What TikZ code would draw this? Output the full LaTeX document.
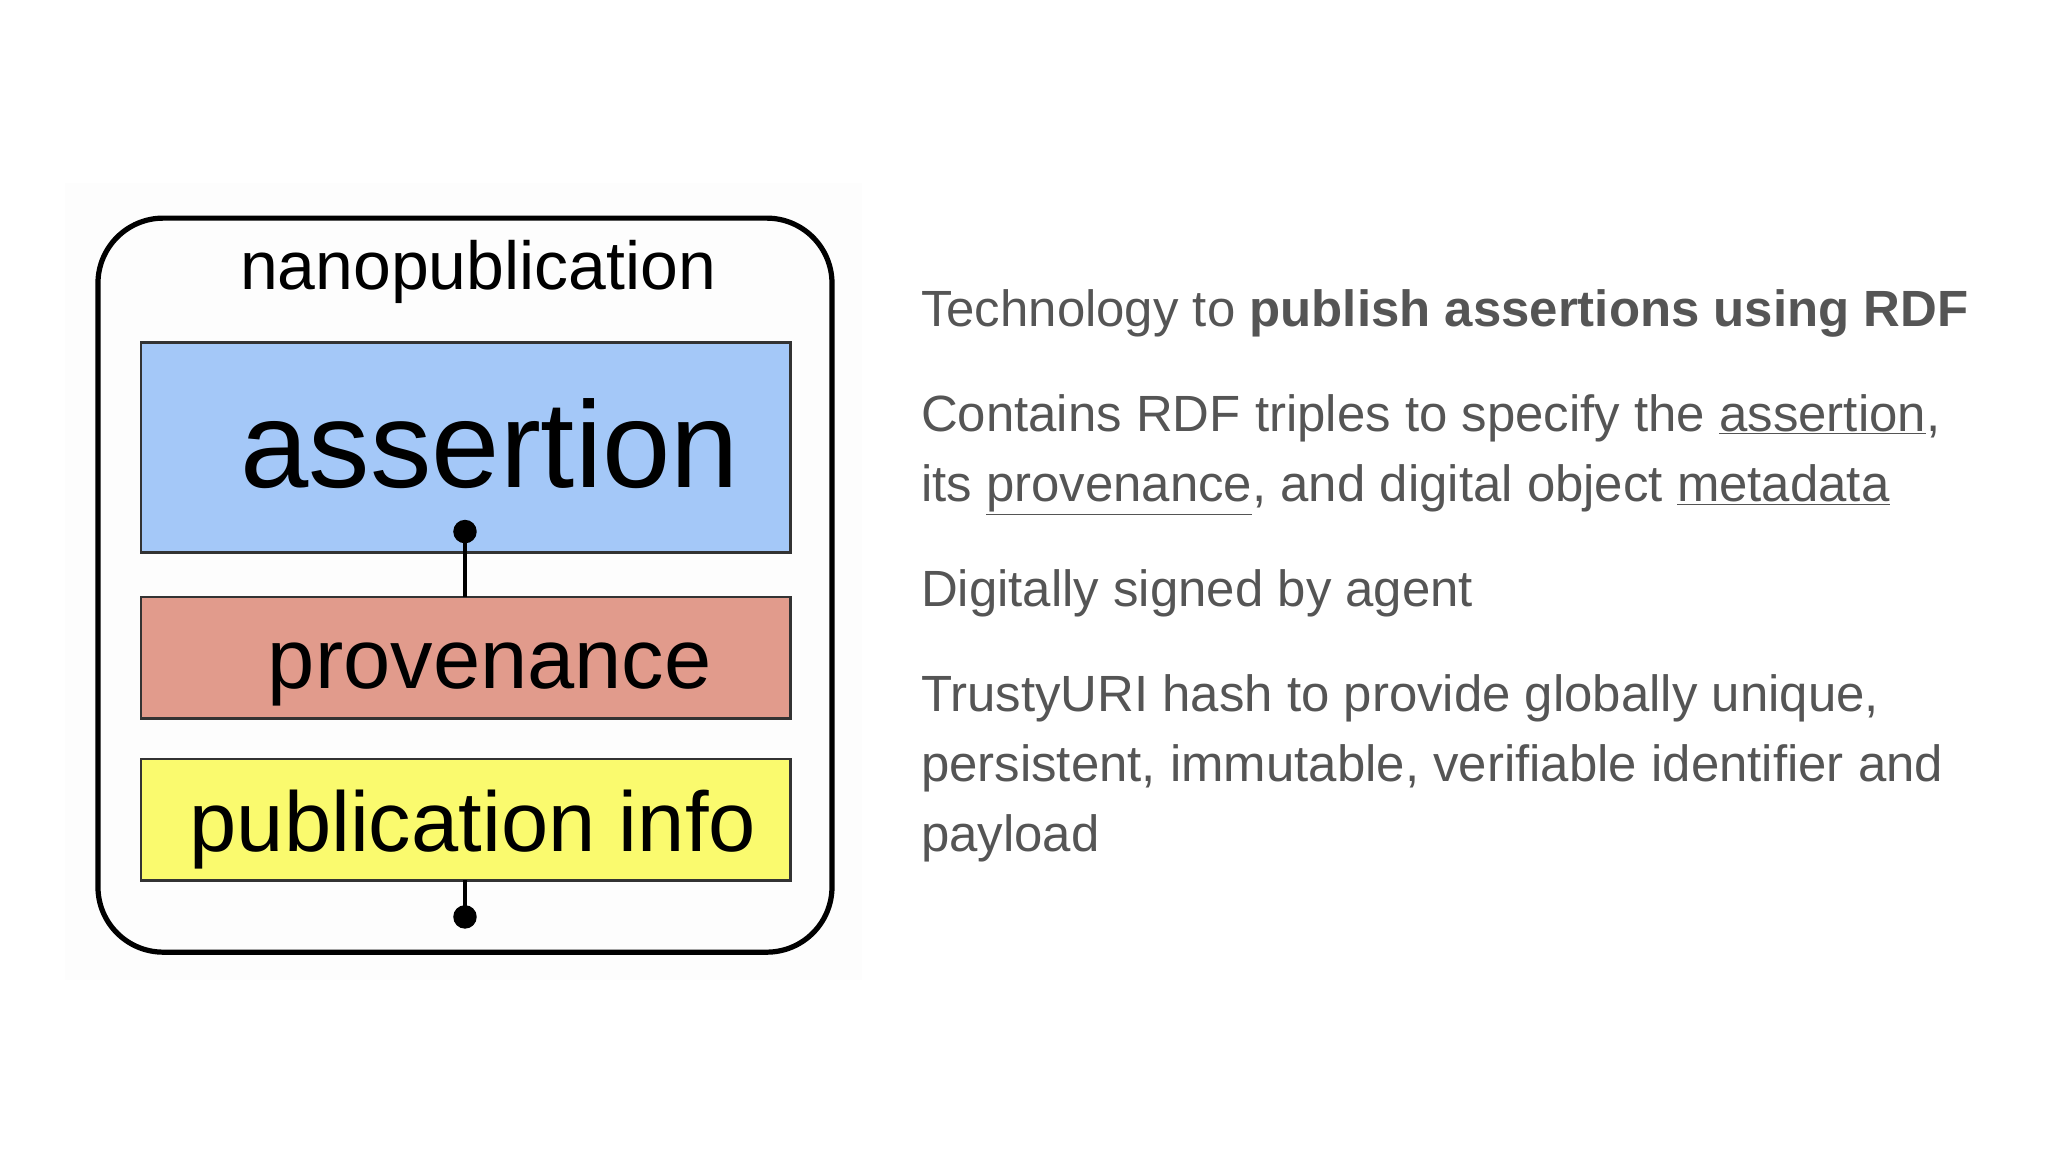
\documentclass[tikz,border=0pt]{standalone}
\usepackage{fontspec}
\setmainfont{Liberation Sans}
\definecolor{txt}{RGB}{85,85,85}
\definecolor{ablue}{RGB}{164,200,248}
\definecolor{prov}{RGB}{225,155,140}
\definecolor{pyel}{RGB}{250,250,110}
\begin{document}
\begin{tikzpicture}[x=1pt,y=-1pt,
  part/.style={draw=black!80,line width=2pt},
  rt/.style={anchor=base west,inner sep=0,text=txt,font=\fontsize{39}{42}\selectfont}]
\useasboundingbox (0,0) rectangle (1568,882);
\fill[black!0.6] (50,140) rectangle (660,750);
\draw[line width=4pt,rounded corners=50pt] (75,167) rectangle (637,729);
\node[anchor=base,inner sep=0] (title) at (366,222) {\fontsize{52}{56}\selectfont nanopublication};
\draw[part,fill=ablue] (108,262) rectangle (605,423);
\node[anchor=base,inner sep=0] (as) at (375,373) {\fontsize{94}{98}\selectfont assertion};
\draw[part,fill=prov] (108,457) rectangle (605,550);
\node[anchor=base,inner sep=0] (pv) at (375,527) {\fontsize{65}{70}\selectfont provenance};
\draw[part,fill=pyel] (108,581) rectangle (605,674);
\node[anchor=base,inner sep=0] (pi) at (362,652) {\fontsize{65}{70}\selectfont publication info};
\coordinate (d1) at (356,407);
\coordinate (d1b) at (356,457);
\coordinate (d2) at (356,702);
\coordinate (d2t) at (356,674);
\draw[line width=3.5pt] (d1) -- (d1b);
\fill (d1) circle (9);
\draw[line width=3.5pt] (d2t) -- (d2);
\fill (d2) circle (9);
\node[rt] (l1) at (705,250) {Technology to \textbf{publish assertions using RDF}};
\node[rt] (l2) at (705,330) {Contains RDF triples to specify the \underline{assertion},};
\node[rt] (l3) at (705,384) {its \underline{provenance}, and digital object \underline{metadata}};
\node[rt] (l4) at (705,464) {Digitally signed by agent};
\node[rt] (l5) at (705,545) {TrustyURI hash to provide globally unique,};
\node[rt] (l6) at (705,598) {persistent, immutable, verifiable identifier and};
\node[rt] (l7) at (705,652) {payload};
\end{tikzpicture}
\end{document}
